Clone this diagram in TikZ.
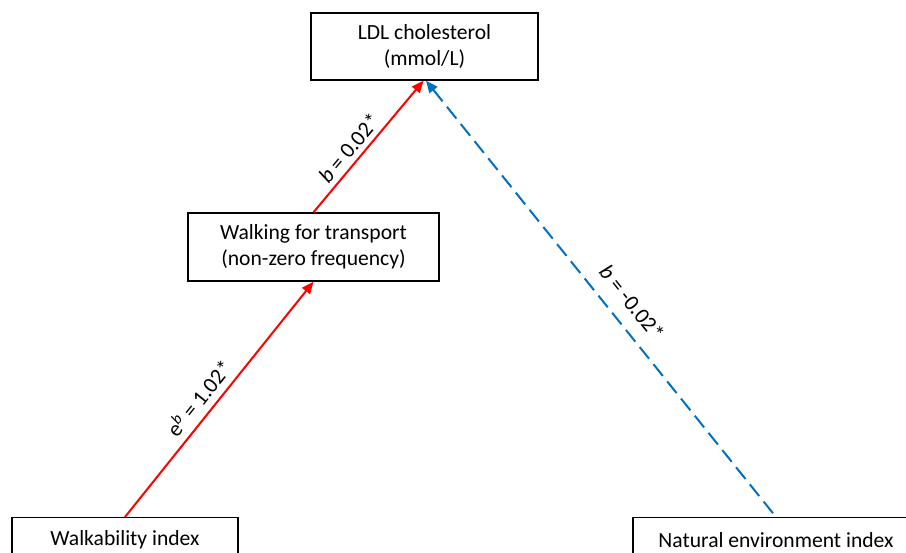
\documentclass[tikz,border=0pt]{standalone}
\usepackage{fontspec}
\setmainfont{Carlito}
\usetikzlibrary{arrows.meta}
\definecolor{offblue}{RGB}{0,112,192}
\definecolor{offred}{RGB}{255,0,0}
\begin{document}
\begin{tikzpicture}[x=1pt,y=1pt,
  box/.style={draw=black, line width=1.4pt, fill=white, align=center, inner sep=0pt,
    font=\fontsize{21.6}{26}\selectfont},
  redarrow/.style={draw=offred, line width=2pt, -{Triangle[length=12pt,width=10pt]}},
  bluearrow/.style={draw=offblue, line width=2pt, dash pattern=on 15pt off 7pt,
    {Triangle[length=12pt,width=10pt]}-},
  lbl/.style={font=\fontsize{22}{26}\selectfont, inner sep=0pt, sloped}]
\useasboundingbox (0,0) rectangle (906,553);
\clip (0,0) rectangle (906,553);
\node[box, minimum width=227, minimum height=67] (ldl) at (424.5,506.5) {LDL cholesterol\\(mmol/L)};
\node[box, minimum width=251, minimum height=68] (wft) at (313.5,306) {Walking for transport\\(non-zero frequency)};
\node[box, minimum width=226, minimum height=45, anchor=north] (wix) at (125,36) {Walkability index};
\node[box, minimum width=286, minimum height=45, anchor=north] (nix) at (776,36) {Natural environment index};
\draw[redarrow] (wix.north) -- (wft.south)
  node[lbl, pos=0.46, above=7pt] {e\textsuperscript{\textit{b}} = 1.02*};
\draw[redarrow] (wft.north) -- ([xshift=-1pt]ldl.south)
  node[lbl, pos=0.42, above=5pt] {\textit{b} = 0.02*};
\draw[bluearrow] ([xshift=1.5pt]ldl.south) -- (nix.north)
  node[lbl, pos=0.54, above=13pt] {\textit{b} = -0.02*};
\end{tikzpicture}
\end{document}
